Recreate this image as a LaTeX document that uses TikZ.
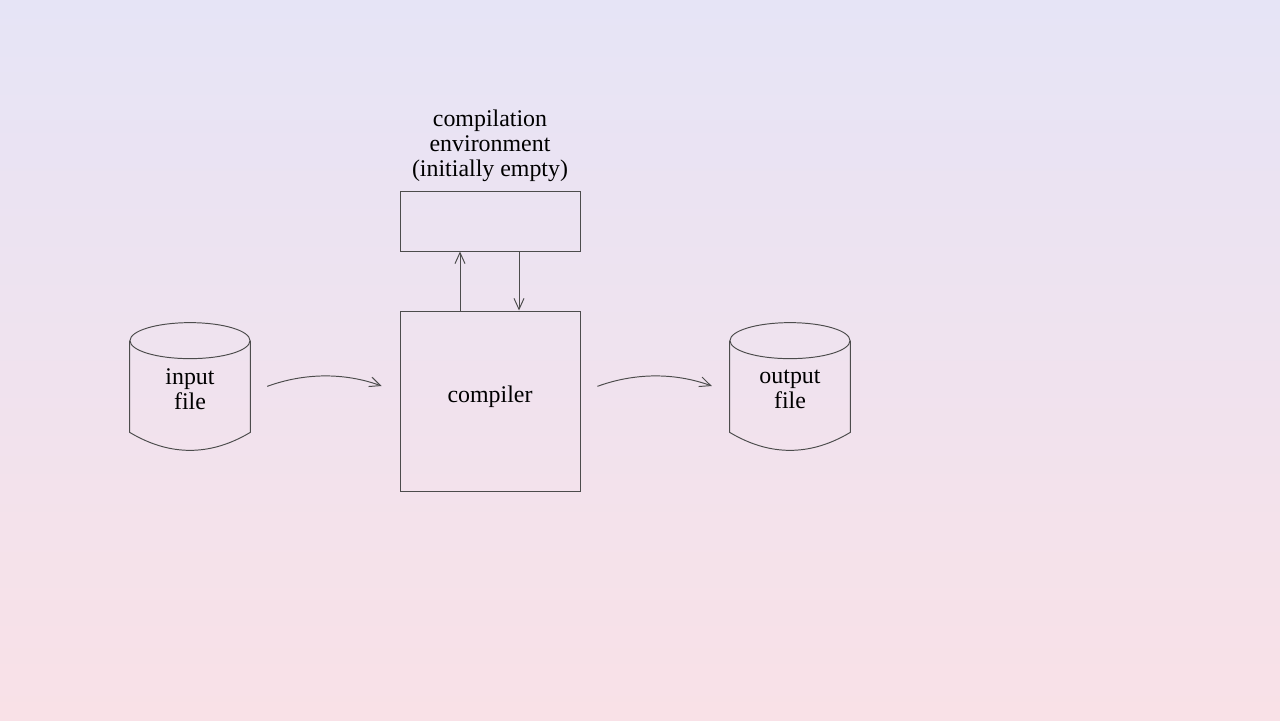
\documentclass[tikz,border=0pt]{standalone}
\usepackage{fontspec}
\setmainfont{Liberation Serif}
\usepackage{xcolor}
\usepackage{tikz}
\usetikzlibrary{arrows.meta, positioning}

\definecolor{bgtop}{RGB}{230,228,246}
\definecolor{bgbottom}{RGB}{249,225,231}

\begin{document}
\begin{tikzpicture}[
  font=\fontsize{13.6}{14.2}\selectfont,
  box/.style={
    draw=black!70,
    line width=0.55pt,
    minimum width=3.6cm,
    align=center
  },
  filebox/.style={
    minimum width=2.4cm,
    minimum height=1.82cm,
    inner sep=0pt,
    align=center
  },
  outline/.style={
    draw=black!70,
    line width=0.55pt
  },
  flow/.style={
    -{Straight Barb[length=2.2mm,width=2mm]},
    line width=0.55pt,
    draw=black!70
  }
]
% Background
\shade[top color=bgtop, bottom color=bgbottom] (0,0) rectangle (25.6,14.4);
\useasboundingbox (0,0) rectangle (25.6,14.4);

% Boxes
\node[box, minimum height=1.2cm] (env) at (9.8,9.98) {};
\node[box, minimum height=3.6cm] (comp) at (9.8,6.38) {};
\node (comptext) at ([yshift=0.08cm]comp.center) {compiler};
\node[align=center, above=0.06cm of env] (envlabel) {compilation\\environment\\(initially empty)};

% Files
\node[filebox] (inp) at (3.8,6.62) {input\\file};
\draw[outline] ([yshift=0.05cm]inp.north west) -- ([yshift=0.05cm]inp.south west)
  .. controls +(0.8,-0.48) and +(-0.8,-0.48) .. ([yshift=0.05cm]inp.south east) -- ([yshift=0.05cm]inp.north east);
\draw[outline] ([yshift=0.05cm]inp.north) ellipse [x radius=1.2cm, y radius=0.36cm];

\node[filebox] (outp) at (15.8,6.62) {output\\file};
\draw[outline] ([yshift=0.05cm]outp.north west) -- ([yshift=0.05cm]outp.south west)
  .. controls +(0.8,-0.48) and +(-0.8,-0.48) .. ([yshift=0.05cm]outp.south east) -- ([yshift=0.05cm]outp.north east);
\draw[outline] ([yshift=0.05cm]outp.north) ellipse [x radius=1.2cm, y radius=0.36cm];

% Connections
\draw[flow, shorten <=0.36cm, shorten >=0.38cm] ([yshift=-0.07cm]inp.east) to[bend left=20] ([yshift=-0.07cm]comp.west |- inp.east);
\draw[flow, shorten <=0.36cm, shorten >=0.38cm] ([yshift=-0.07cm]comp.east |- outp.west) to[bend left=20] ([yshift=-0.07cm]outp.west);
\draw[flow] ([xshift=-0.6cm]comp.north) -- ([xshift=-0.6cm]env.south);
\draw[flow] ([xshift=0.58cm]env.south) -- ([xshift=0.58cm]comp.north);
\end{tikzpicture}
\end{document}
